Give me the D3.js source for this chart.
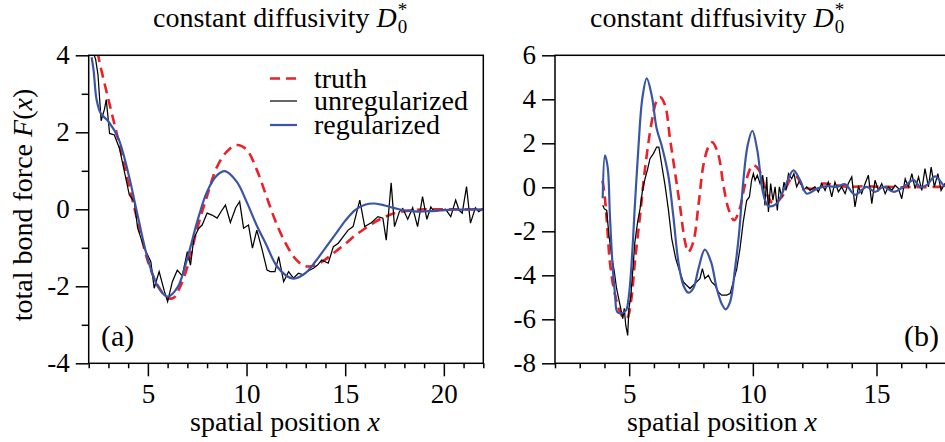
<!DOCTYPE html>
<html>
<head>
<meta charset="utf-8">
<script src="https://cdn.jsdelivr.net/npm/d3@7"></script>
<style>
  body { margin: 0; background: #fff; }
  text { font-family: "Liberation Serif", "Times New Roman", serif; fill: #000; }
</style>
</head>
<body>
<svg id="chart" width="945" height="442"></svg>
<script>
// ---- DATA ----
// panel (a)
var truthA = [[2.2,4.9],[2.5,3.95],[3.0,2.85],[3.5,1.8],[4.0,0.7],[4.5,-0.35],[5.0,-1.35],[5.5,-1.98],[6.0,-2.3],
  [6.3,-2.3],[6.6,-2.05],[7.0,-1.5],[7.5,-0.5],[8.0,0.35],[8.5,1.1],[9.0,1.5],[9.5,1.67],[10.0,1.55],[10.5,1.05],
  [11.0,0.35],[11.5,-0.35],[12.0,-0.9],[12.5,-1.3],[13.0,-1.48],[13.5,-1.45],[14.0,-1.3],[14.5,-1.1],[15.0,-0.9],
  [15.5,-0.68],[16.0,-0.5],[16.5,-0.33],[17.0,-0.2],[17.5,-0.1],[18.0,-0.05],[18.5,-0.02],[19.0,0],[20.0,0],[21.0,0],[22.0,0]];
var unregA = [[2.2,4.1],[2.35,3.9],[2.47,3.5],[2.63,2.3],[2.8,2.6],[2.89,2.85],[3.06,1.97],[3.3,1.93],[3.56,1.58],
  [3.81,0.98],[4.06,0.37],[4.31,0.2],[4.48,-0.49],[4.65,-0.75],[4.82,-1.01],[5.0,-1.2],[5.15,-1.36],[5.32,-2.05],
  [5.57,-1.62],[5.82,-2.1],[6.0,-2.4],[6.24,-1.88],[6.49,-1.58],[6.74,-1.73],[7.0,-1.1],[7.16,-1.45],[7.33,-0.75],
  [7.58,-0.49],[7.75,-0.41],[8.0,-0.1],[8.25,-0.15],[8.51,-0.23],[8.72,-0.05],[8.93,0.11],[9.18,-0.34],[9.45,0.04],
  [9.65,0.2],[9.85,-0.49],[10.1,-0.41],[10.3,-1.01],[10.52,-0.54],[10.77,-1.01],[11.04,-1.58],[11.2,-1.62],
  [11.44,-1.62],[11.63,-1.23],[11.88,-1.88],[12.13,-1.62],[12.38,-1.79],[12.63,-1.66],[12.88,-1.7],[13.05,-1.62],
  [13.39,-1.53],[13.6,-1.45],[13.81,-1.32],[14.14,-1.4],[14.4,-0.97],[14.65,-0.88],[14.9,-0.71],[15.15,-0.54],
  [15.4,-0.45],[15.74,0.24],[15.99,-0.45],[16.32,-0.35],[16.66,-0.19],[16.91,-0.23],[17.08,-0.8],[17.33,0.69],
  [17.5,-0.45],[17.75,-0.06],[17.92,0.02],[18.17,-0.26],[18.42,0.04],[18.67,-0.45],[18.92,0.33],[19.14,-0.26],
  [19.34,0.06],[19.5,-0.06],[19.84,-0.02],[20.09,0],[20.35,-0.19],[20.6,0.24],[20.77,-0.02],[20.93,-0.1],
  [21.15,0.59],[21.35,-0.36],[21.6,0.04],[21.77,-0.06],[21.95,0]];
var regA = [[2.15,3.95],[2.25,3.6],[2.4,2.85],[2.6,2.5],[3.0,2.28],[3.5,1.85],[4.0,0.95],[4.5,-0.2],[5.0,-1.3],
  [5.5,-2.0],[6.0,-2.27],[6.5,-2.03],[7.0,-1.27],[7.5,-0.32],[8.0,0.46],[8.5,0.88],[8.9,0.99],[9.5,0.72],[10.0,0.2],
  [10.5,-0.4],[11.0,-0.92],[11.5,-1.45],[12.0,-1.72],[12.4,-1.8],[13.0,-1.65],[13.5,-1.35],[14.0,-1.0],[14.5,-0.65],
  [15.0,-0.3],[15.5,-0.02],[16.0,0.12],[16.5,0.15],[17.0,0.1],[17.5,0.03],[18.0,-0.03],[18.7,-0.06],[19.5,-0.04],
  [20.5,-0.01],[22.0,0]];

// panel (b)
var truthB = [[3.92,0.3],[4.0,-0.3],[4.1,-1.6],[4.22,-3.4],[4.43,-4.9],[4.7,-5.82],[4.9,-5.97],[5.07,-5.2],[5.23,-3.4],
  [5.44,-1.27],[5.64,0.85],[5.91,2.97],[6.1,3.9],[6.25,4.1],[6.45,3.73],[6.65,2.21],[6.85,0.7],[7.05,-0.82],
  [7.26,-2.49],[7.39,-2.94],[7.59,-2.49],[7.8,-0.82],[8.0,1.0],[8.2,1.83],[8.36,2.05],[8.6,1.5],[8.81,0.09],
  [9.01,-0.97],[9.24,-1.5],[9.45,-1.05],[9.7,0.2],[9.95,0.95],[10.05,1.0],[10.29,0.7],[10.56,-0.29],[10.83,-0.74],
  [11.17,-0.44],[11.5,0.32],[11.77,0.47],[12.04,0.02],[12.45,-0.06],[12.85,0.17],[13.39,0.09],[13.93,0.02],
  [14.5,0.05],[15.0,0.03],[15.5,0.02],[16.0,0.0],[16.5,0.02],[17.0,0.0],[17.5,0.02],[18.0,0.0]];
var unregB = [[3.93,-0.82],[3.99,-0.97],[4.09,-1.05],[4.18,-2.18],[4.29,-3.09],[4.4,-3.85],[4.49,-4.6],[4.63,-5.36],
  [4.74,-5.97],[4.8,-5.5],[4.86,-6.27],[4.94,-6.73],[4.99,-5.5],[5.07,-4.9],[5.17,-3.39],[5.23,-2.49],[5.34,-1.58],
  [5.44,-0.97],[5.53,-0.21],[5.64,0.39],[5.75,0.85],[5.84,1.3],[5.98,1.53],[6.11,1.83],[6.2,1.83],[6.31,1.06],
  [6.45,0.09],[6.58,-0.97],[6.72,-2.33],[6.88,-3.24],[7.05,-3.85],[7.19,-4.3],[7.32,-4.45],[7.46,-4.6],[7.59,-4.45],
  [7.73,-4.3],[7.86,-4.15],[7.96,-3.7],[8.06,-4.15],[8.2,-4.0],[8.33,-4.3],[8.47,-4.45],[8.6,-4.76],[8.74,-4.9],
  [8.94,-4.9],[9.08,-4.83],[9.21,-4.3],[9.35,-3.7],[9.48,-2.79],[9.61,-1.58],[9.75,-0.6],[9.86,-0.44],[9.95,0.32],
  [10.02,0.62],[10.09,0.32],[10.18,0.55],[10.29,0.17],[10.4,0.55],[10.49,-0.82],[10.56,0.47],[10.63,-1.12],
  [10.72,0.17],[10.81,-0.59],[10.9,0.02],[10.99,-1.05],[11.07,0.02],[11.17,-0.44],[11.26,0.24],[11.34,-0.14],
  [11.44,0.62],[11.57,0.39],[11.66,0.62],[11.77,0.02],[11.9,0.32],[12.04,-0.14],[12.18,0.02],[12.31,-0.14],
  [12.51,0.02],[12.65,-0.21],[12.78,0.17],[12.92,-0.14],[13.05,0.24],[13.19,-0.44],[13.32,0.24],[13.46,-0.21],
  [13.59,0.02],[13.73,-0.29],[13.86,0.17],[14.0,0.47],[14.13,-0.89],[14.27,0.02],[14.4,-0.29],[14.54,0.17],
  [14.67,0.55],[14.81,-0.74],[14.94,0.32],[15.08,-0.14],[15.21,0.17],[15.35,-0.29],[15.48,0.02],[15.62,-0.14],
  [15.75,0.09],[15.89,-0.06],[16.02,-0.52],[16.16,0.39],[16.29,0.02],[16.43,0.62],[16.56,-0.06],[16.7,0.47],
  [16.83,-0.14],[16.96,0.85],[17.1,0.02],[17.21,0.92],[17.34,0.02],[17.48,0.62],[17.61,-0.14],[17.77,0.17],[18.0,0.1]];
var regB = [[3.93,-0.5],[4.02,1.45],[4.13,0.92],[4.22,-1.27],[4.32,-3.4],[4.43,-4.9],[4.52,-5.67],[4.7,-5.72],
  [4.87,-5.6],[4.99,-4.9],[5.1,-3.4],[5.23,-0.82],[5.37,1.76],[5.53,4.03],[5.71,4.95],[5.91,4.18],[6.11,2.67],
  [6.31,1.91],[6.58,0.55],[6.78,-1.27],[6.99,-3.4],[7.19,-4.45],[7.39,-4.79],[7.59,-4.6],[7.8,-3.7],[8.06,-2.83],
  [8.31,-3.39],[8.54,-4.6],[8.74,-5.29],[8.9,-5.55],[9.08,-5.21],[9.28,-3.7],[9.45,-2.0],[9.61,0.24],[9.79,1.91],
  [9.98,2.57],[10.18,1.68],[10.42,-0.29],[10.63,-0.85],[10.96,-0.74],[11.3,0.02],[11.64,0.77],[11.91,0.32],
  [12.18,-0.29],[12.6,-0.06],[13.0,0.05],[13.4,0.02],[13.73,0.14],[14.13,-0.34],[14.6,0.02],[14.94,-0.21],
  [15.28,0.02],[15.7,-0.21],[16.09,0.02],[16.5,0.33],[16.76,0.02],[17.03,0.1],[17.37,0.5],[17.77,0.05],[18.0,0.1]];

// ticks and labels
var xTicksA = [5, 10, 15, 20], yTicksA = [-4, -2, 0, 2, 4], yMinorA = [-3, -1, 1, 3];
var xTicksB = [5, 10, 15], yTicksB = [-8, -6, -4, -2, 0, 2, 4, 6], yMinorB = [];
var legendNames = ["truth", "unregularized", "regularized"];
var titleMain = "constant diffusivity ";

// ---- STYLE ----
var red = "#ec2027", blue = "#3b55a6";
var plotTop = 55.3, plotBottom = 363.3;

var svg = d3.select("#chart");

function fmt(d) { return d < 0 ? "-" + Math.abs(d) : "" + d; }

function drawPanel(p) {
  var x = d3.scaleLinear().domain(p.xDomain).range([p.x0, p.x1]);
  var y = d3.scaleLinear().domain(p.yDomain).range([plotBottom, plotTop]);
  var line = d3.line().x(function (d) { return x(d[0]); }).y(function (d) { return y(d[1]); });
  var smooth = d3.line().curve(d3.curveCatmullRom.alpha(0.5))
    .x(function (d) { return x(d[0]); }).y(function (d) { return y(d[1]); });

  svg.append("clipPath").attr("id", "clip" + p.id)
    .append("rect").attr("x", p.x0).attr("y", plotTop).attr("width", p.x1 - p.x0).attr("height", plotBottom - plotTop);

  var plot = svg.append("g").attr("clip-path", "url(#clip" + p.id + ")");
  plot.append("path").datum(p.truth).attr("d", smooth)
    .attr("fill", "none").attr("stroke", red).attr("stroke-width", 2.6).attr("stroke-dasharray", "10,6");
  plot.append("path").datum(p.unreg).attr("d", line)
    .attr("fill", "none").attr("stroke", "#000").attr("stroke-width", 1.25);
  plot.append("path").datum(p.reg).attr("d", smooth)
    .attr("fill", "none").attr("stroke", blue).attr("stroke-width", 2.2);

  // frame
  svg.append("rect").attr("x", p.x0).attr("y", plotTop).attr("width", p.x1 - p.x0).attr("height", plotBottom - plotTop)
    .attr("fill", "none").attr("stroke", "#000").attr("stroke-width", 1.5);

  // y axis
  svg.append("g").attr("transform", "translate(" + p.x0 + ",0)")
    .call(d3.axisLeft(y).tickValues(p.yTicks).tickSize(13).tickSizeOuter(0).tickPadding(6).tickFormat(fmt));
  svg.append("g").attr("transform", "translate(" + p.x0 + ",0)")
    .call(d3.axisLeft(y).tickValues(p.yMinor).tickSize(7).tickSizeOuter(0).tickFormat(""));

  // x axis
  var minor = d3.range(Math.ceil(p.xDomain[0]), p.xDomain[1] + 0.01, 1).filter(function (v) { return p.xTicks.indexOf(v) < 0; });
  svg.append("g").attr("transform", "translate(0," + plotBottom + ")")
    .call(d3.axisBottom(x).tickValues(p.xTicks).tickSize(13).tickSizeOuter(0).tickPadding(8).tickFormat(fmt));
  svg.append("g").attr("transform", "translate(0," + plotBottom + ")")
    .call(d3.axisBottom(x).tickValues(minor).tickSize(5).tickSizeOuter(0).tickFormat(""));

  svg.selectAll(".domain").attr("stroke", "none");
  svg.selectAll(".tick line").attr("stroke", "#000").attr("stroke-width", 1.5);
  svg.selectAll(".tick text").style("font-family", "'Liberation Serif', serif").style("font-size", "27px").attr("fill", "#000");

  // panel letter
  svg.append("text").attr("x", p.letterX).attr("y", 346).style("font-size", "30px").text(p.letter);

  // title
  var t = svg.append("text").attr("x", p.titleX).attr("y", 27).style("font-size", "28px");
  t.append("tspan").text(titleMain);
  t.append("tspan").style("font-style", "italic").text("D");
  var w = t.node().getComputedTextLength();
  svg.append("text").attr("x", p.titleX + w + 1).attr("y", 16).style("font-size", "19px").text("*");
  svg.append("text").attr("x", p.titleX + w + 1).attr("y", 33).style("font-size", "19px").text("0");

  // x label
  var xl = svg.append("text").attr("x", p.xLabelX).attr("y", 431).attr("text-anchor", "middle").style("font-size", "28px");
  xl.append("tspan").text("spatial position ");
  xl.append("tspan").style("font-style", "italic").text("x");
}

drawPanel({ id: "a", xDomain: [2, 22], yDomain: [-4, 4], x0: 88.7, x1: 483.3,
  truth: truthA, unreg: unregA, reg: regA, xTicks: xTicksA, yTicks: yTicksA, yMinor: yMinorA,
  letter: "(a)", letterX: 101, titleX: 153, xLabelX: 285 });
drawPanel({ id: "b", xDomain: [2, 18], yDomain: [-8, 6], x0: 555, x1: 950.7,
  truth: truthB, unreg: unregB, reg: regB, xTicks: xTicksB, yTicks: yTicksB, yMinor: yMinorB,
  letter: "(b)", letterX: 904, titleX: 590, xLabelX: 722 });

// y label
var yl = svg.append("text").attr("transform", "translate(32,205) rotate(-90)")
  .attr("text-anchor", "middle").style("font-size", "28px");
yl.append("tspan").text("total bond force ");
yl.append("tspan").style("font-style", "italic").text("F");
yl.append("tspan").text("(");
yl.append("tspan").style("font-style", "italic").text("x");
yl.append("tspan").text(")");

// legend
var legendColors = [red, "#000", blue], legendDash = ["10,6", null, null], legendW = [2.6, 1.2, 2.2];
var legY = [78.5, 101, 125];
legendNames.forEach(function (name, i) {
  svg.append("line").attr("x1", 270).attr("x2", 297).attr("y1", legY[i]).attr("y2", legY[i])
    .attr("stroke", legendColors[i]).attr("stroke-width", legendW[i]).attr("stroke-dasharray", legendDash[i]);
  svg.append("text").attr("x", 314).attr("y", legY[i] + 9).style("font-size", "28px").text(name);
});
</script>
</body>
</html>
